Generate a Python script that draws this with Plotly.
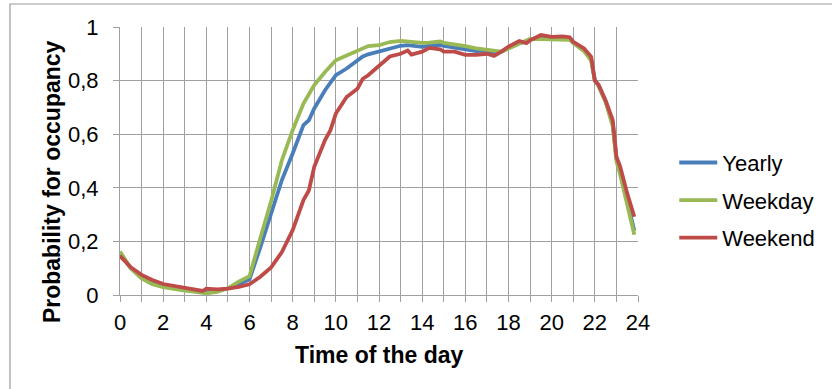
import plotly.graph_objects as go

# Time of day (hours)
hours = [0, 0.5, 1, 1.5, 2, 2.5, 3, 3.5, 3.83, 4, 4.5, 5, 5.5, 6, 6.5, 7, 7.5, 8,
         8.5, 8.75, 9, 9.5, 9.75, 10, 10.5, 11, 11.25, 11.5, 12, 12.5, 13, 13.33,
         13.5, 14, 14.33, 14.83, 15, 15.5, 16, 16.5, 17, 17.33, 17.67, 18, 18.5,
         18.83, 19, 19.5, 20, 20.5, 20.83, 21, 21.5, 21.83, 22, 22.17, 22.5, 22.83,
         23, 23.17, 23.5, 23.83]

yearly = [0.155, 0.10, 0.065, 0.043, 0.032, 0.025, 0.020, 0.015, 0.010, 0.010, 0.015,
          0.025, 0.040, 0.058, 0.178, 0.298, 0.429, 0.528, 0.634, 0.652, 0.696, 0.764,
          0.790, 0.820, 0.845, 0.873, 0.890, 0.898, 0.908, 0.918, 0.930, 0.932, 0.930,
          0.926, 0.930, 0.933, 0.930, 0.924, 0.915, 0.910, 0.912, 0.905, 0.908, 0.922,
          0.940, 0.945, 0.953, 0.962, 0.958, 0.958, 0.955, 0.942, 0.913, 0.880, 0.800,
          0.782, 0.722, 0.640, 0.510, 0.460, 0.350, 0.240]

weekday = [0.162, 0.100, 0.062, 0.040, 0.029, 0.022, 0.016, 0.012, 0.008, 0.006, 0.012,
           0.025, 0.050, 0.070, 0.212, 0.350, 0.503, 0.615, 0.714, 0.748, 0.783, 0.832,
           0.855, 0.876, 0.894, 0.913, 0.922, 0.929, 0.932, 0.944, 0.948, 0.945, 0.944,
           0.941, 0.942, 0.946, 0.941, 0.936, 0.929, 0.920, 0.914, 0.910, 0.908, 0.920,
           0.937, 0.948, 0.956, 0.955, 0.955, 0.955, 0.952, 0.940, 0.910, 0.875, 0.800,
           0.780, 0.720, 0.630, 0.500, 0.450, 0.330, 0.225]

weekend = [0.146, 0.103, 0.075, 0.056, 0.041, 0.034, 0.029, 0.021, 0.015, 0.024, 0.021,
           0.024, 0.030, 0.040, 0.068, 0.103, 0.160, 0.242, 0.354, 0.390, 0.478, 0.578,
           0.615, 0.677, 0.739, 0.770, 0.807, 0.820, 0.857, 0.890, 0.900, 0.912, 0.897,
           0.908, 0.922, 0.917, 0.908, 0.908, 0.896, 0.896, 0.900, 0.892, 0.908, 0.927,
           0.948, 0.940, 0.950, 0.970, 0.963, 0.965, 0.962, 0.945, 0.920, 0.889, 0.800,
           0.785, 0.726, 0.652, 0.516, 0.480, 0.379, 0.292]

x_ticks = [0, 2, 4, 6, 8, 10, 12, 14, 16, 18, 20, 22, 24]
y_ticks = [0, 0.2, 0.4, 0.6, 0.8, 1]
y_tick_text = ["0", "0,2", "0,4", "0,6", "0,8", "1"]

series = [("Yearly", yearly, "#4a7ebb"),
          ("Weekday", weekday, "#98b954"),
          ("Weekend", weekend, "#be4b48")]

FONT = "Liberation Sans, Arial, sans-serif"
GRID = "#a0a0a0"

fig = go.Figure()
for name, vals, color in series:
    fig.add_trace(go.Scatter(x=hours, y=vals, mode="lines", name=name,
                             legendgroup=name,
                             line=dict(color=color, width=3.8)))

fig.update_layout(
    width=832, height=389,
    margin=dict(l=120, r=194, t=27, b=94),
    paper_bgcolor="white", plot_bgcolor="white",
    font=dict(family=FONT, size=22, color="black"),
    showlegend=True,
    legend=dict(x=1.07, y=0.572, xanchor="left", yanchor="top",
                font=dict(family=FONT, size=22, color="black"),
                traceorder="grouped", tracegroupgap=6, itemwidth=38,
                bgcolor="rgba(0,0,0,0)"),
    xaxis=dict(range=[0, 24], tickvals=x_ticks, ticktext=[str(v) for v in x_ticks],
               showgrid=True, gridcolor=GRID, gridwidth=1.2,
               showline=True, linecolor=GRID, linewidth=1.2,
               ticks="outside", ticklen=6, tickcolor=GRID, tickwidth=1.2,
               ticklabelstandoff=1,
               minor=dict(dtick=1, showgrid=True, gridcolor=GRID, gridwidth=1.2,
                          ticks="outside", ticklen=6, tickcolor=GRID, tickwidth=1.2),
               zeroline=False, fixedrange=True),
    yaxis=dict(range=[0, 1], tickvals=y_ticks, ticktext=y_tick_text,
               showgrid=True, gridcolor=GRID, gridwidth=1.2,
               showline=True, linecolor=GRID, linewidth=1.2,
               ticks="outside", ticklen=6, tickcolor=GRID, tickwidth=1.2,
               ticklabelstandoff=10,
               zeroline=False, fixedrange=True),
)

# Chart frame
fig.add_shape(type="rect", xref="paper", yref="paper",
              x0=-0.2124, x1=1.6, y0=-0.6, y1=1.0858,
              line=dict(color="#9a9a9a", width=1.2), layer="below")

# Axis titles
fig.add_annotation(text="<b>Time of the day</b>", xref="paper", yref="paper",
                   x=0.5, y=-0.224, showarrow=False,
                   font=dict(family=FONT, size=23, color="black"),
                   xanchor="center", yanchor="middle")
fig.add_annotation(text="<b>Probability for occupancy</b>", xref="paper", yref="paper",
                   x=-0.1313, y=0.425, showarrow=False, textangle=-90,
                   font=dict(family=FONT, size=23, color="black"),
                   xanchor="center", yanchor="middle")

fig.write_html("out.html")
